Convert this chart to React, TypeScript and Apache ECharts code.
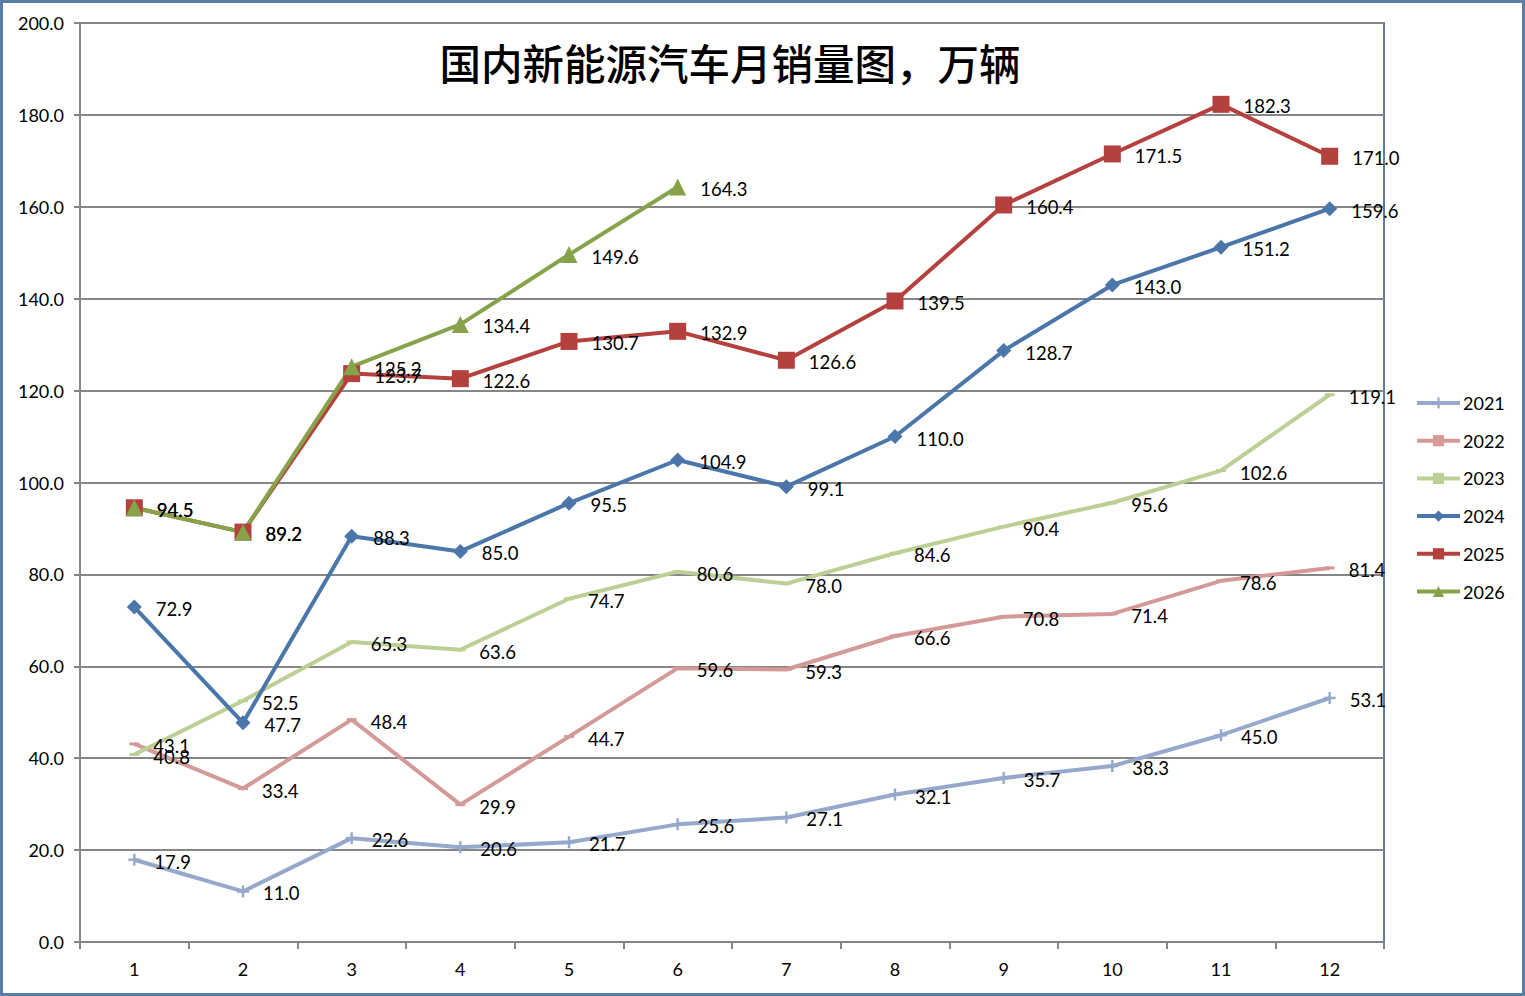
import React, { useEffect, useRef } from "react";
import * as echarts from "echarts";

const months = ["1", "2", "3", "4", "5", "6", "7", "8", "9", "10", "11", "12"];
const y2021 = [17.9, 11.0, 22.6, 20.6, 21.7, 25.6, 27.1, 32.1, 35.7, 38.3, 45.0, 53.1];
const y2022 = [43.1, 33.4, 48.4, 29.9, 44.7, 59.6, 59.3, 66.6, 70.8, 71.4, 78.6, 81.4];
const y2023 = [40.8, 52.5, 65.3, 63.6, 74.7, 80.6, 78.0, 84.6, 90.4, 95.6, 102.6, 119.1];
const y2024 = [72.9, 47.7, 88.3, 85.0, 95.5, 104.9, 99.1, 110.0, 128.7, 143.0, 151.2, 159.6];
const y2025 = [94.5, 89.2, 123.7, 122.6, 130.7, 132.9, 126.6, 139.5, 160.4, 171.5, 182.3, 171.0];
const y2026 = [94.5, 89.2, 125.2, 134.4, 149.6, 164.3];
const seriesNames = ["2021", "2022", "2023", "2024", "2025", "2026"];
const title = "国内新能源汽车月销量图，万辆";

const FONT = "Lato, 'Noto Sans', sans-serif";

export default function App() {
  const ref = useRef<HTMLDivElement>(null);
  useEffect(() => {
    if (!ref.current) return;
    const chart = echarts.init(ref.current, undefined, { renderer: "svg" });
    const label = {
      show: true,
      position: "right" as const,
      distance: 14,
      offset: [0, 2],
      color: "#000",
      fontSize: 18.5,
      fontFamily: FONT,
      formatter: (p: any) => Number(p.value).toFixed(1),
    };
    const mk = (name: string, data: number[], color: string, symbol: string, size: any) => ({
      name,
      type: "line",
      data,
      symbol,
      symbolSize: size,
      showSymbol: true,
      lineStyle: { color, width: 4 },
      itemStyle: { color, borderWidth: 0 },
      label,
      emphasis: { disabled: true },
    });
    const plus = "path://M4,0H6V4H10V6H6V10H4V6H0V4H4Z";
    const dash = "path://M0,0H10V3H0Z";
    chart.setOption({
      animation: false,
      backgroundColor: "#fff",
      textStyle: { fontFamily: FONT },
      title: {
        text: title,
        left: 725,
        textAlign: "center",
        top: 36,
        textStyle: {
          fontFamily: "'Noto Sans CJK SC', sans-serif",
          fontSize: 41.5,
          fontWeight: 500,
          color: "#000",
        },
      },
      graphic: [
        {
          type: "rect",
          shape: { x: 1.5, y: 1.5, width: 1522, height: 993 },
          style: { fill: "none", stroke: "#5b7ea6", lineWidth: 3 },
          silent: true,
        },
      ],
      legend: {
        orient: "vertical",
        left: 1410,
        top: 389,
        itemWidth: 43,
        itemHeight: 14,
        itemGap: 19.7,
        lineStyle: { width: 4 },
        textStyle: { fontSize: 18, fontFamily: FONT, color: "#000", padding: [0, 0, 0, -2] },
        data: seriesNames,
      },
      grid: {
        left: 80,
        right: 141,
        top: 23,
        bottom: 54,
        show: true,
        borderColor: "#5d7b9b",
        borderWidth: 2,
        backgroundColor: "transparent",
      },
      xAxis: {
        type: "category",
        data: months,
        boundaryGap: true,
        axisLine: { lineStyle: { color: "#868686", width: 2 } },
        axisTick: { show: true, length: 7, inside: false, lineStyle: { color: "#868686", width: 2 } },
        axisLabel: { fontSize: 18, color: "#000", margin: 18, fontFamily: FONT },
        splitLine: { show: false },
      },
      yAxis: {
        type: "value",
        min: 0,
        max: 200,
        interval: 20,
        axisLine: { show: true, lineStyle: { color: "#868686", width: 2 } },
        axisTick: { show: true, length: 6, lineStyle: { color: "#868686", width: 2 } },
        axisLabel: {
          fontSize: 18,
          color: "#000",
          margin: 16,
          fontFamily: FONT,
          formatter: (v: number) => v.toFixed(1),
        },
        splitLine: { show: true, lineStyle: { color: "#868686", width: 2 } },
      },
      series: [
        mk("2021", y2021, "#95a9cd", plus, 12),
        mk("2022", y2022, "#d49a98", dash, [10, 3]),
        mk("2023", y2023, "#bcd095", dash, [10, 3]),
        mk("2024", y2024, "#4a76aa", "diamond", 15),
        mk("2025", y2025, "#b5413f", "rect", 17),
        mk("2026", y2026, "#86a34a", "triangle", 17),
      ],
    });
    return () => chart.dispose();
  }, []);
  return (
    <div style={{ position: "fixed", left: 0, top: 0, width: 1525, height: 996, background: "#fff" }}>
      <div ref={ref} style={{ width: 1525, height: 996 }} />
    </div>
  );
}
